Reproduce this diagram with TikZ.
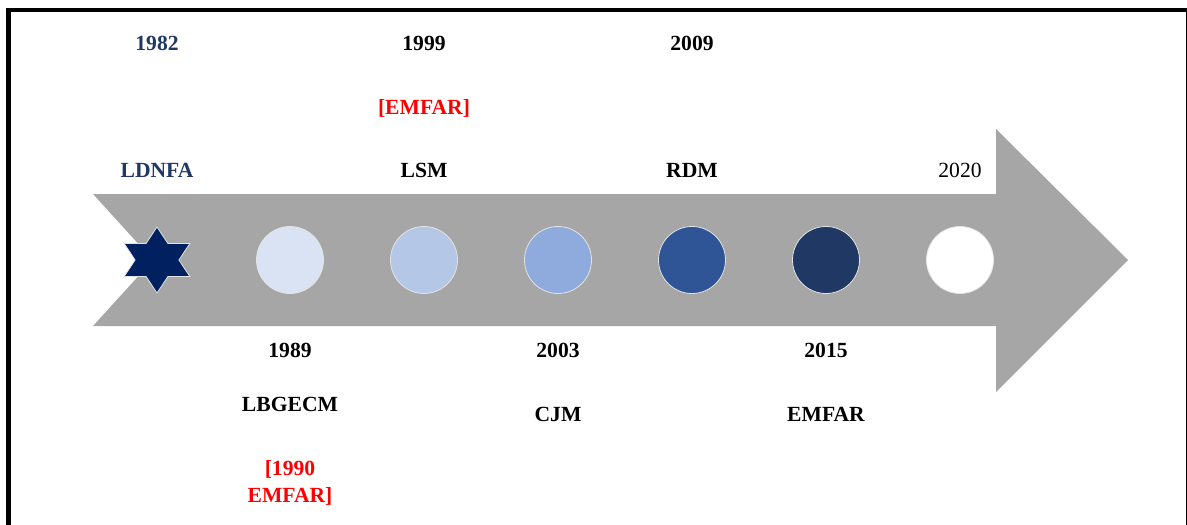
\documentclass[tikz,border=0pt]{standalone}
\usepackage{fontspec}
\setmainfont{Liberation Serif}
\definecolor{navy}{HTML}{1F3864}
\definecolor{starblue}{HTML}{002060}
\definecolor{arrowgray}{HTML}{A6A6A6}
\definecolor{dotA}{HTML}{DAE3F3}
\definecolor{dotB}{HTML}{B4C7E7}
\definecolor{dotC}{HTML}{8FAADC}
\definecolor{dotD}{HTML}{2F5597}
\definecolor{dotE}{HTML}{203864}
\definecolor{rimgray}{HTML}{E4E4E4}
\tikzset{
  lbl/.style={font=\fontsize{21.6}{24}\selectfont\bfseries, anchor=base, inner sep=0pt},
  plainlbl/.style={font=\fontsize{21.6}{24}\selectfont, anchor=base, inner sep=0pt},
  dot/.style={circle, minimum size=67pt, inner sep=0pt, draw=rimgray, line width=0.8pt},
}
\begin{document}
\begin{tikzpicture}[x=1pt, y=-1pt]
  \useasboundingbox (0,0) rectangle (1187,525);
  \clip (0,0) rectangle (1187,525);
  % outer frame
  \draw[line width=4.5pt] (8.5,10) rectangle (1188.5,545);
  % timeline arrow with notched tail
  \fill[arrowgray] (93,194) -- (996,194) -- (996,129) -- (1128,260)
    -- (996,392) -- (996,326) -- (93,326) -- (153,260) -- cycle;
  % hexagram marking the start
  \begin{scope}[shift={(157,260)}, xscale=1.15]
    \draw[fill=starblue, draw=rimgray, line width=0.8pt]
      (90:33) -- (60:19.05) -- (30:33) -- (0:19.05) -- (-30:33) -- (-60:19.05)
      -- (-90:33) -- (-120:19.05) -- (-150:33) -- (180:19.05) -- (150:33)
      -- (120:19.05) -- cycle;
  \end{scope}
  % milestones
  \node[dot, fill=dotA] (c1989) at (290,260) {};
  \node[dot, fill=dotB] (c1999) at (424,260) {};
  \node[dot, fill=dotC] (c2003) at (558,260) {};
  \node[dot, fill=dotD] (c2009) at (692,260) {};
  \node[dot, fill=dotE] (c2015) at (826,260) {};
  \node[dot, fill=white] (c2020) at (960,260) {};
  % labels above the arrow
  \node[lbl, text=navy] (y1982) at (157,50) {1982};
  \node[lbl, text=navy] (n1982) at (157,177) {LDNFA};
  \node[lbl] (y1999) at (424,50) {1999};
  \node[lbl, text=red] (r1999) at (424,114) {[EMFAR]};
  \node[lbl] (n1999) at (424,177) {LSM};
  \node[lbl] (y2009) at (692,50) {2009};
  \node[lbl] (n2009) at (692,177) {RDM};
  \node[plainlbl] (y2020) at (960,177) {2020};
  % labels below the arrow
  \node[lbl] (y1989) at (290,357) {1989};
  \node[lbl] (n1989) at (290,411) {LBGECM};
  \node[lbl, text=red] (r1989a) at (290,475) {[1990};
  \node[lbl, text=red] (r1989b) at (290,502) {EMFAR]};
  \node[lbl] (y2003) at (558,357) {2003};
  \node[lbl] (n2003) at (558,421) {CJM};
  \node[lbl] (y2015) at (826,357) {2015};
  \node[lbl] (n2015) at (826,421) {EMFAR};
\end{tikzpicture}
\end{document}
